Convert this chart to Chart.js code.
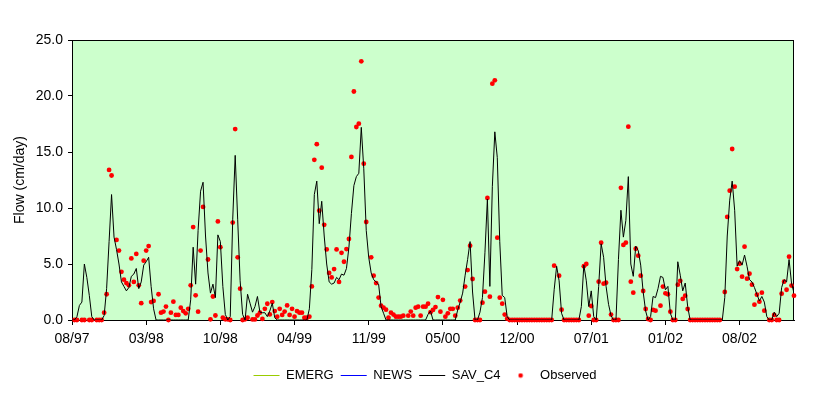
<!DOCTYPE html>
<html>
<head>
<meta charset="utf-8">
<script src="https://cdn.jsdelivr.net/npm/chart.js@4.4.1/dist/chart.umd.min.js"></script>
<style>
  html, body { margin: 0; padding: 0; background: #fff; }
  #wrap { width: 830px; height: 397px; position: relative; }
</style>
</head>
<body>
<div id="wrap"><canvas id="flowChart"></canvas></div>
<script>
// tick labels, one every 30 samples
var tickLabels = ['08/97', '03/98', '10/98', '04/99', '11/99', '05/00', '12/00', '07/01', '01/02', '08/02'];
var tickStep = 30;

// simulated flow (cm/day), one value per sample
var emerg = [];
var news = [];
var savC4 = [
  0, 0, 0.3, 1.3, 1.6, 5.0, 3.8, 2.2, 0.3, 0,
  0, 0, 0, 0.4, 2.8, 7.0, 11.2, 7.4, 6.3, 5.0,
  3.4, 3.0, 2.6, 2.9, 3.9, 4.1, 4.6, 2.8, 3.4, 4.9,
  5.2, 5.6, 3.0, 1.0, 0, 0, 0, 0, 0, 0,
  0, 0, 0, 0, 0, 0, 0, 0, 1.8, 6.5,
  3.2, 8.0, 11.5, 12.3, 7.5, 4.2, 2.4, 3.2, 2.0, 7.6,
  7.0, 3.0, 0.5, 0, 0.3, 9.0, 14.7, 9.0, 3.5, 0.5,
  0, 2.3, 1.5, 0.7, 1.2, 2.1, 0.7, 0.65, 0.65, 0.3,
  0.8, 1.5, 0.2, 0, 0, 0, 0, 0, 0, 0,
  0, 0, 0, 0, 0, 0, 1.0, 4.5, 11.2, 12.4,
  8.6, 10.6, 7.5, 5.0, 3.4, 3.2, 3.3, 3.8, 3.6, 4.1,
  4.0, 4.6, 6.5, 9.5, 12.0, 12.8, 13.1, 17.2, 13.5, 8.0,
  5.6, 4.2, 3.6, 3.4, 3.2, 1.2, 0.6, 0, 0, 0,
  0, 0, 0, 0, 0, 0, 0, 0, 0, 0,
  0, 0, 0, 0, 0.5, 0.8, 0, 0, 0, 0,
  0, 0, 0, 0, 0, 0, 0.9, 1.6, 2.4, 4.0,
  5.4, 7.0, 2.5, 0, 0, 0.7, 2.0, 6.0, 10.8, 3.0,
  11.9, 16.8, 14.5, 7.0, 2.2, 2.0, 0.3, 0, 0, 0,
  0, 0, 0, 0, 0, 0, 0, 0, 0, 0,
  0, 0, 0, 0, 0, 2.7, 4.8, 3.5, 0.6, 0,
  0, 0, 0, 0, 0, 0, 1.2, 4.9, 3.5, 1.2,
  2.6, 0.3, 0, 3.0, 6.8, 5.6, 3.0, 1.4, 0.4, 0,
  0, 5.4, 9.8, 7.4, 8.9, 12.8, 5.0, 3.9, 6.6, 6.2,
  4.9, 2.5, 0.8, 0, 0.3, 2.1, 2.0, 2.8, 3.9, 3.8,
  2.7, 3.0, 0.6, 0, 0, 5.2, 4.0, 2.6, 3.3, 1.2,
  0, 0, 0, 0, 0, 0, 0, 0, 0, 0,
  0, 0, 0, 0, 2.0, 7.5, 10.7, 12.4, 9.8, 4.8,
  5.3, 4.9, 5.8, 4.8, 3.6, 3.4, 2.9, 2.3, 1.7, 2.1,
  1.6, 0.3, 0, 0, 0.7, 0.3, 0.6, 2.9, 3.6, 3.4,
  5.4, 3.3, 2.4
];

// observed flow, null where there is no measurement
var observed = [
  null, 0, 0, null, 0, 0, null, 0, 0, null,
  0, 0, 0, 0.65, 2.3, 13.4, 12.9, null, 7.15, 6.2,
  4.3, 3.6, 3.3, 3.1, 5.5, 3.4, 5.9, 3.1, 1.5, 5.3,
  6.2, 6.6, 1.6, 1.7, null, 2.3, 0.65, 0.75, 1.2, 0,
  0.65, 1.64, 0.45, 0.45, 1.1, 0.8, 0.6, 1.0, 3.1, 8.3,
  2.2, 0.74, 6.2, 10.1, null, 5.4, 0.06, 2.1, 0.4, 8.8,
  6.5, 0.2, 0.06, 0.06, 0, 8.7, 17.05, 5.6, 2.8, 0,
  0.06, 0.2, null, 0.05, 0.05, 0.4, 0.65, 0.1, 1.0, 1.45,
  0.5, 1.6, 0.8, 0.3, 1.0, 0.45, 0.75, 1.3, 0.45, 1.0,
  0.3, 0.8, 0.65, 0.65, 0.2, 0.2, 0.3, 3.0, 14.3, 15.7,
  9.76, 13.6, 8.5, 6.3, 4.2, 3.8, 4.55, 6.3, 3.4, 6.0,
  5.2, 6.33, 7.23, 14.56, 20.4, 17.23, 17.53, 23.1, 13.96, 8.75,
  null, 5.6, 3.96, 3.3, 2.0, 1.28, 1.1, 0.92, 0.2, 0.65,
  0.48, 0.3, 0.3, 0.3, 0.39, null, 0.39, 0.75, 0.39, 1.1,
  1.19, 0.39, 1.19, 1.19, 1.45, 0.7, 0.9, 1.15, 2.05, 0.74,
  1.8, 0.3, 0.6, 1.0, 1.0, 0.39, 1.1, 1.73, null, 2.98,
  4.46, 6.64, 3.66, 0, 0, 0, 1.55, 2.53, 10.9, 2.08,
  21.1, 21.4, 7.35, 1.99, 1.46, 0.48, 0.12, 0, 0, 0,
  0, 0, 0, 0, 0, 0, 0, 0, 0, 0,
  0, 0, 0, 0, 0, 4.85, null, 3.96, 0.92, 0,
  0, 0, 0, 0, 0, 0, null, 4.8, 5.0, 0.39,
  1.25, 0, 0, 3.42, 6.9, 3.24, 3.33, null, 0.48, 0,
  0, 0, 11.8, 6.7, 6.9, 17.26, 3.42, 2.44, 6.36, 5.74,
  3.96, 2.59, 0.98, 0.09, 0, 0.9, 0.83, null, 1.28, 2.98,
  2.38, 2.3, 0.74, 0, 0, 3.15, 3.5, 1.88, 2.17, 0.98,
  0, 0, 0, 0, 0, 0, 0, 0, 0, 0,
  0, 0, 0, null, 2.5, 9.2, 11.55, 15.27, 11.9, 4.55,
  5.03, 3.87, 6.55, 3.69, 4.14, 3.15, 1.37, 2.26, 1.64, 2.44,
  0.83, null, 0, 0, 0.45, 0, 0, 2.35, 3.42, 2.7,
  5.65, 3.07, 2.17
];

function toPoints(arr) {
  return arr.map(function (v, i) { return { x: i, y: v }; });
}

// small red dot used as the legend symbol of the observed series
function dotIcon(color) {
  var c = document.createElement('canvas');
  c.width = 6; c.height = 6;
  var g = c.getContext('2d');
  g.fillStyle = color;
  g.beginPath();
  g.arc(3, 3, 2.3, 0, Math.PI * 2);
  g.fill();
  return c;
}
var obsIcon = dotIcon('#FF0000');

var plotFrame = {
  id: 'plotFrame',
  beforeDraw: function (chart) {
    var a = chart.chartArea, ctx = chart.ctx;
    ctx.save();
    ctx.fillStyle = '#CCFFCC';
    ctx.fillRect(a.left, a.top, a.right - a.left, a.bottom - a.top);
    ctx.restore();
  },
  beforeDatasetsDraw: function (chart) {
    var a = chart.chartArea, ctx = chart.ctx;
    ctx.save();
    ctx.strokeStyle = '#000';
    ctx.lineWidth = 1;
    ctx.strokeRect(a.left + 0.5, a.top + 0.5, a.right - a.left - 1, a.bottom - a.top);
    ctx.restore();
  }
};

Chart.defaults.font.family = '"Liberation Sans", Arial, sans-serif';
Chart.defaults.font.size = 14;
Chart.defaults.color = '#000';

var ctx = document.getElementById('flowChart').getContext('2d');
var flowChart = new Chart(ctx, {
  type: 'line',
  data: {
    datasets: [{
      label: 'EMERG',
      data: toPoints(emerg),
      borderColor: '#99CC00',
      borderWidth: 1,
      pointRadius: 0
    }, {
      label: 'NEWS',
      data: toPoints(news),
      borderColor: '#0000FF',
      borderWidth: 1,
      pointRadius: 0
    }, {
      label: 'SAV_C4',
      data: toPoints(savC4),
      borderColor: '#000000',
      borderWidth: 1,
      pointRadius: 0,
      tension: 0
    }, {
      label: 'Observed',
      data: toPoints(observed),
      showLine: false,
      pointStyle: 'circle',
      pointRadius: 2.4,
      pointBackgroundColor: '#FF0000',
      pointBorderWidth: 0,
      borderColor: '#FF0000',
      clip: false
    }]
  },
  options: {
    responsive: true,
    maintainAspectRatio: false,
    animation: false,
    events: [],
    layout: { padding: { top: 40, left: 20, right: 0, bottom: 5 } },
    plugins: {
      tooltip: { enabled: false },
      legend: {
        position: 'bottom',
        labels: {
          font: { size: 13 },
          color: '#000',
          padding: 7,
          usePointStyle: true,
          pointStyleWidth: 26,
          boxHeight: 13,
          generateLabels: function (chart) {
            return chart.data.datasets.map(function (ds, i) {
              var isDots = ds.showLine === false;
              return {
                text: ds.label,
                pointStyle: isDots ? obsIcon : 'line',
                fillStyle: isDots ? '#FF0000' : ds.borderColor,
                strokeStyle: ds.borderColor,
                lineWidth: 1,
                fontColor: '#000',
                hidden: false,
                datasetIndex: i
              };
            });
          }
        }
      }
    },
    scales: {
      x: {
        type: 'linear',
        min: 0,
        max: savC4.length - 1,
        grid: { drawOnChartArea: false, tickLength: 5, color: '#000' },
        border: { color: '#000' },
        ticks: {
          stepSize: tickStep,
          includeBounds: false,
          autoSkip: false,
          maxRotation: 0,
          padding: 6,
          callback: function (v) { return tickLabels[Math.round(v / tickStep)]; }
        },
        afterFit: function (s) { s.height = 42; }
      },
      y: {
        min: 0,
        max: 25,
        grid: { drawOnChartArea: false, tickLength: 4, color: '#000' },
        border: { color: '#000' },
        ticks: {
          stepSize: 5,
          padding: 5,
          callback: function (v) { return v.toFixed(1); }
        },
        title: {
          display: true,
          text: 'Flow (cm/day)',
          font: { size: 14 },
          padding: { top: -8, bottom: 0 }
        },
        afterFit: function (s) { s.width = 52; }
      },
      yr: {
        type: 'linear',
        position: 'right',
        display: true,
        grid: { display: false },
        border: { display: false },
        ticks: { display: false },
        afterFit: function (s) { s.width = 36; }
      }
    }
  },
  plugins: [plotFrame]
});
</script>
</body>
</html>
